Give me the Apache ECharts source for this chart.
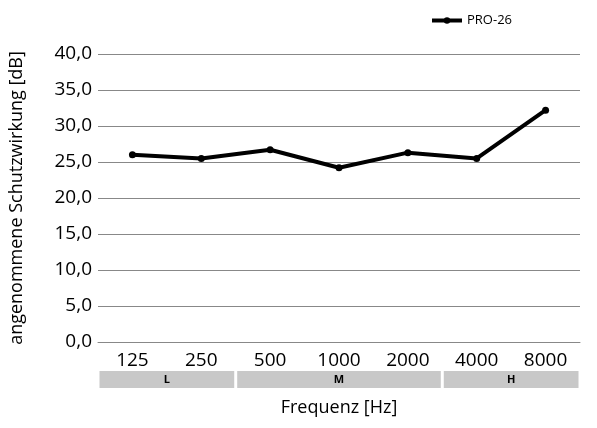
<!DOCTYPE html>
<html>
<head>
<meta charset="utf-8">
<script src="https://cdn.jsdelivr.net/npm/echarts@6/dist/echarts.min.js"></script>
<style>html,body{margin:0;padding:0;background:#fff}#chart{width:597px;height:428px}</style>
</head>
<body>
<div id="chart"></div>
<script>
// Daten
var categories = ['125', '250', '500', '1000', '2000', '4000', '8000'];
var werte = [26.0, 25.5, 26.7, 24.2, 26.3, 25.5, 32.2];
// Frequenzbereiche: Name, erste und letzte Kategorie-Index
var bereiche = [['L', 0, 1], ['M', 2, 4], ['H', 5, 6]];

var font = 'Open Sans';
var chart = echarts.init(document.getElementById('chart'));
chart.setOption({
    animation: false,
    textStyle: { fontFamily: font },
    grid: { left: 98, right: 17, top: 54, bottom: 86 },
    legend: {
        top: 9, left: 425, itemWidth: 30, itemHeight: 8,
        textStyle: { fontSize: 13, color: '#000' },
        lineStyle: { width: 4 },
        data: ['PRO-26']
    },
    xAxis: {
        type: 'category',
        data: categories,
        name: 'Frequenz [Hz]',
        nameLocation: 'middle',
        nameGap: 57,
        nameTextStyle: { fontSize: 18, color: '#000' },
        axisLine: { lineStyle: { color: '#888' } },
        axisTick: { inside: true, length: 4, lineStyle: { color: '#888' } },
        axisLabel: { fontSize: 19, color: '#000', margin: 9 }
    },
    yAxis: {
        type: 'value',
        min: 0, max: 40, interval: 5,
        name: 'angenommene Schutzwirkung [dB]',
        nameLocation: 'middle',
        nameGap: 72,
        nameTextStyle: { fontSize: 18, color: '#000' },
        axisLine: { show: false },
        axisTick: { show: false },
        splitLine: { lineStyle: { color: '#888' } },
        axisLabel: {
            fontSize: 19, color: '#000', margin: 6,
            formatter: function (v) { return v.toFixed(1).replace('.', ','); }
        }
    },
    series: [{
        name: 'PRO-26',
        type: 'line',
        data: werte,
        symbol: 'circle',
        symbolSize: 7,
        lineStyle: { color: '#000', width: 4 },
        itemStyle: { color: '#000' }
    }]
});

// graue Bänder für L/M/H unter der Achse
var step = chart.convertToPixel({ xAxisIndex: 0 }, 1) - chart.convertToPixel({ xAxisIndex: 0 }, 0);
var graphics = bereiche.map(function (b) {
    var x0 = chart.convertToPixel({ xAxisIndex: 0 }, b[1]) - step / 2 + 1.5;
    var x1 = chart.convertToPixel({ xAxisIndex: 0 }, b[2]) + step / 2 - 1.5;
    return {
        type: 'group',
        children: [
            { type: 'rect', shape: { x: x0, y: 371, width: x1 - x0, height: 17 }, style: { fill: '#c8c8c8' } },
            { type: 'text', x: (x0 + x1) / 2, y: 380, style: { text: b[0], fill: '#000', font: 'bold 11px ' + font, textAlign: 'center', textVerticalAlign: 'middle' } }
        ]
    };
});
chart.setOption({ graphic: graphics });
</script>
</body>
</html>
